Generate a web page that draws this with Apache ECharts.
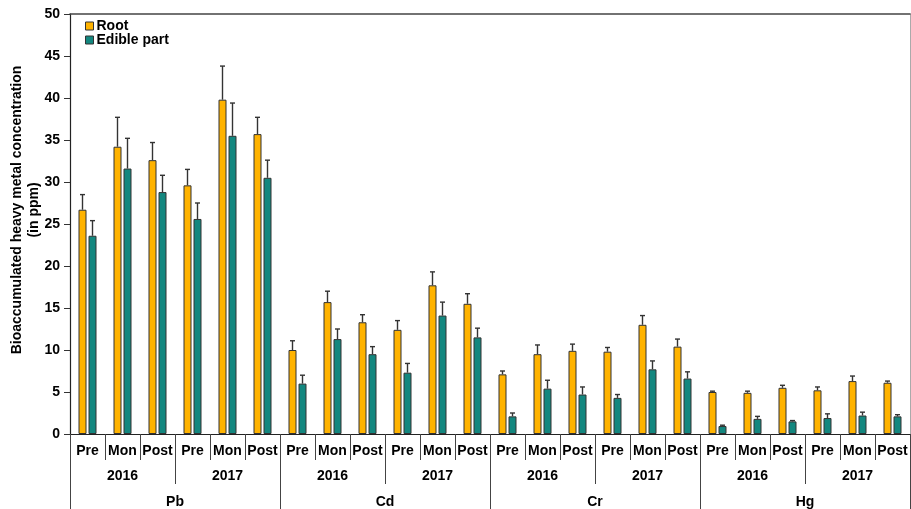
<!DOCTYPE html>
<html>
<head>
<meta charset="utf-8">
<script src="https://cdn.jsdelivr.net/npm/echarts@6/dist/echarts.min.js"></script>
<style>html,body{margin:0;padding:0;background:#fff}#c{width:911px;height:509px}</style>
</head>
<body>
<div id="c"></div>
<script>
var seasons = ['Pre','Mon','Post','Pre','Mon','Post','Pre','Mon','Post','Pre','Mon','Post',
               'Pre','Mon','Post','Pre','Mon','Post','Pre','Mon','Post','Pre','Mon','Post'];
var years = ['2016','2017','2016','2017','2016','2017','2016','2017'];
var metals = ['Pb','Cd','Cr','Hg'];
var yTicks = [0,5,10,15,20,25,30,35,40,45,50];

var rootValues = [26.7,34.2,32.6,29.6,39.8,35.7,
                  10.0,15.7,13.3,12.4,17.7,15.5,
                  7.1,9.5,9.9,9.8,13.0,10.4,
                  5.0,4.9,5.5,5.2,6.3,6.1];
var rootSD = [1.8,3.5,2.1,1.9,4.0,2.0,
              1.1,1.3,0.9,1.1,1.6,1.2,
              0.4,1.1,0.8,0.5,1.1,0.9,
              0.1,0.2,0.3,0.4,0.6,0.2];
var edibleValues = [23.6,31.6,28.8,25.6,35.5,30.5,
                    6.0,11.3,9.5,7.3,14.1,11.5,
                    2.1,5.4,4.7,4.3,7.7,6.6,
                    0.95,1.8,1.5,1.9,2.2,2.1];
var edibleSD = [1.8,3.6,2.0,1.9,3.9,2.1,
                1.0,1.2,0.9,1.1,1.6,1.1,
                0.4,1.0,0.9,0.4,1.0,0.8,
                0.1,0.3,0.1,0.5,0.4,0.2];

var FONT = "'Liberation Sans', Arial, sans-serif";
var ROOT_COLOR = '#FFB300';
var EDIBLE_COLOR = '#13877F';
var BAR_W = 8;
var BAR_GAP_PX = 2;

function errData(vals, sds) {
  return vals.map(function (v, i) { return [i, v, v + sds[i]]; });
}
function errRender(offset) {
  return function (params, api) {
    var base = api.coord([api.value(0), api.value(1)]);
    var top = api.coord([api.value(0), api.value(2)]);
    var x = base[0] + offset;
    var st = { stroke: '#333', lineWidth: 1.4 };
    return {
      type: 'group',
      children: [
        { type: 'line', shape: { x1: x, y1: base[1], x2: x, y2: top[1] }, style: st },
        { type: 'line', shape: { x1: x - 2.5, y1: top[1], x2: x + 2.5, y2: top[1] }, style: st }
      ]
    };
  };
}
var off = (BAR_W + BAR_GAP_PX) / 2;

var chart = echarts.init(document.getElementById('c'));
var labelStyle = { fontFamily: FONT, fontWeight: 'bold', fontSize: 14, color: '#000' };

chart.setOption({
  animation: false,
  backgroundColor: '#fff',
  grid: { left: 70, right: 1, top: 14, bottom: 75, containLabel: false, outerBoundsMode: 'none' },
  legend: {
    orient: 'vertical', left: 80, top: 14,
    itemWidth: 8, itemHeight: 8, itemGap: 0,
    icon: 'rect',
    textStyle: { fontFamily: FONT, fontWeight: 'bold', fontSize: 14, color: '#000', padding: [0,0,0,-2] },
    data: [
      { name: 'Root', itemStyle: { color: ROOT_COLOR, borderColor: '#333', borderWidth: 1 } },
      { name: 'Edible part', itemStyle: { color: EDIBLE_COLOR, borderColor: '#333', borderWidth: 1 } }
    ]
  },
  xAxis: [
    {
      type: 'category', data: seasons, position: 'bottom',
      axisLine: { show: true, lineStyle: { color: '#222', width: 1.2 } },
      axisTick: { show: true, interval: 0, length: 26, lineStyle: { color: '#444', width: 1 } },
      axisLabel: Object.assign({ interval: 0, margin: 10 }, labelStyle)
    },
    {
      type: 'category', data: years, position: 'bottom',
      axisLine: { show: false },
      axisTick: { show: true, interval: 0, length: 50, lineStyle: { color: '#444', width: 1 } },
      axisLabel: Object.assign({ interval: 0, margin: 35 }, labelStyle)
    },
    {
      type: 'category', data: metals, position: 'bottom',
      axisLine: { show: false },
      axisTick: { show: true, interval: 0, length: 80, lineStyle: { color: '#444', width: 1 } },
      axisLabel: Object.assign({ interval: 0, margin: 61 }, labelStyle)
    },
    {
      type: 'category', data: seasons, position: 'top',
      axisLine: { show: true, lineStyle: { color: '#444', width: 1.5 } },
      axisTick: { show: false }, axisLabel: { show: false }
    }
  ],
  yAxis: [
    {
      type: 'value', min: yTicks[0], max: yTicks[yTicks.length - 1], interval: 5,
      axisLine: { show: true, lineStyle: { color: '#222', width: 1.2 } },
      axisTick: { show: true, length: 6, lineStyle: { color: '#333' } },
      splitLine: { show: false },
      axisLabel: Object.assign({ margin: 10 }, labelStyle),
      name: 'Bioaccumulated heavy metal concentration\n(in ppm)',
      nameLocation: 'middle', nameGap: 27, nameMoveOverlap: false,
      nameTextStyle: { fontFamily: FONT, fontWeight: 'bold', fontSize: 14, color: '#000', lineHeight: 17, padding: [0, 0, 0, 28] }
    },
    {
      type: 'value', position: 'right', min: 0, max: 50, interval: 5,
      axisLine: { show: true, lineStyle: { color: '#aaa', width: 1 } },
      axisTick: { show: false }, axisLabel: { show: false }, splitLine: { show: false }
    }
  ],
  series: [
    {
      name: 'Root', type: 'bar', data: rootValues, xAxisIndex: 0, yAxisIndex: 0,
      barWidth: BAR_W, barGap: '25%',
      itemStyle: { color: ROOT_COLOR, borderColor: '#333', borderWidth: 1 }
    },
    {
      name: 'Edible part', type: 'bar', data: edibleValues, xAxisIndex: 0, yAxisIndex: 0,
      barWidth: BAR_W, barGap: '25%',
      itemStyle: { color: EDIBLE_COLOR, borderColor: '#333', borderWidth: 1 }
    },
    {
      type: 'custom', xAxisIndex: 0, yAxisIndex: 0, z: 3,
      renderItem: errRender(-off), data: errData(rootValues, rootSD),
      encode: { x: 0, y: [1, 2] }
    },
    {
      type: 'custom', xAxisIndex: 0, yAxisIndex: 0, z: 3,
      renderItem: errRender(off), data: errData(edibleValues, edibleSD),
      encode: { x: 0, y: [1, 2] }
    }
  ]
});
</script>
</body>
</html>
